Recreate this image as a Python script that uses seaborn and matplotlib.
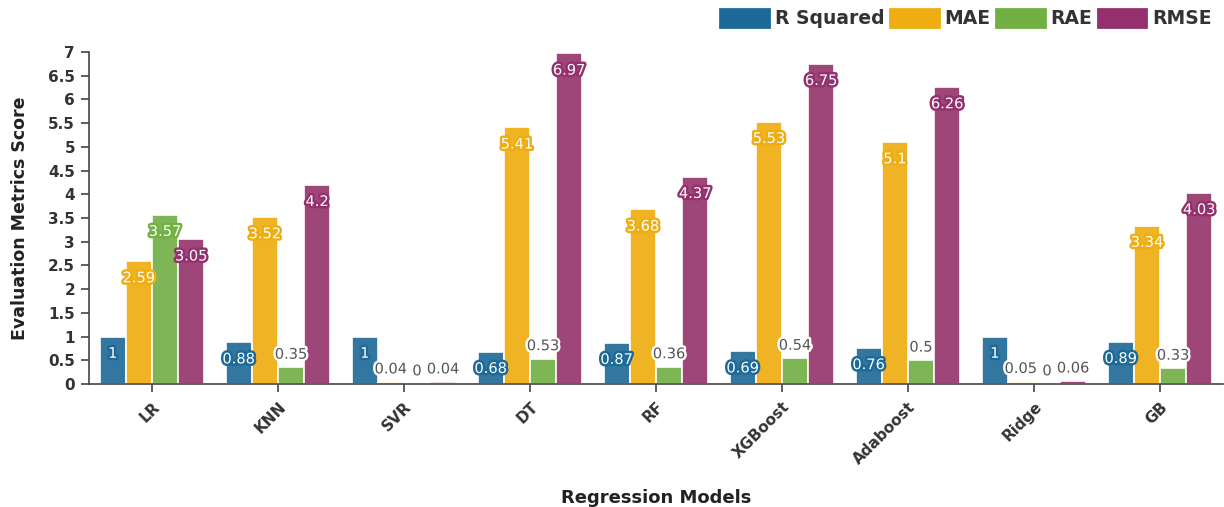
import matplotlib
matplotlib.use("Agg")
import matplotlib.pyplot as plt
import matplotlib.patheffects as pe
from matplotlib.patches import Patch
import numpy as np
import pandas as pd
import seaborn as sns

# Regression models and their evaluation metrics
models = ["LR", "KNN", "SVR", "DT", "RF", "XGBoost", "Adaboost", "Ridge", "GB"]
r_squared = [1, 0.88, 1, 0.68, 0.87, 0.69, 0.76, 1, 0.89]
mae = [2.59, 3.52, 0.04, 5.41, 3.68, 5.53, 5.1, 0.05, 3.34]
rae = [3.57, 0.35, 0, 0.53, 0.36, 0.54, 0.5, 0, 0.33]
rmse = [3.05, 4.2, 0.04, 6.97, 4.37, 6.75, 6.26, 0.06, 4.03]
metric_names = ["R Squared", "MAE", "RAE", "RMSE"]
metric_values = [r_squared, mae, rae, rmse]
y_ticks = [0, 0.5, 1, 1.5, 2, 2.5, 3, 3.5, 4, 4.5, 5, 5.5, 6, 6.5, 7]

palette = ["#1c6a97", "#eeae12", "#72b044", "#94306e"]
bar_colors = ["#33769f", "#f0b323", "#7fb655", "#9e4677"]

sns.set_theme(style="white")
plt.rcParams["font.family"] = ["DejaVu Sans"]

df = pd.DataFrame({
    "Model": models * len(metric_names),
    "Metric": np.repeat(metric_names, len(models)),
    "Score": np.concatenate(metric_values),
})

fig = plt.figure(figsize=(12.24, 5.07), dpi=100)
ax = fig.add_axes([0.0727, 0.2426, 0.9265, 0.6548])

sns.barplot(data=df, x="Model", y="Score", hue="Metric", order=models,
            hue_order=metric_names, palette=bar_colors, width=0.83,
            edgecolor="white", linewidth=1.2, saturation=1, legend=False, ax=ax)

ax.set_ylim(0, 7)
ax.set_xlim(-0.5, len(models) - 0.5)
ax.set_yticks(y_ticks)
ax.set_yticklabels([f"{t:g}" for t in y_ticks])

# Value labels: inside the top of tall bars, above short ones
px_per_unit = 332 / 7.0
for container, vals, col in zip(ax.containers, metric_values, palette):
    for bar, v in zip(container, vals):
        cx = bar.get_x() + bar.get_width() / 2
        h_px = v * px_per_unit
        if h_px > 28:
            ax.annotate(f"{v:g}", (cx, v), xytext=(0, -12), textcoords="offset points",
                        ha="center", va="center", fontsize=10.5, color="white",
                        path_effects=[pe.withStroke(linewidth=3.5, foreground=col)])
        else:
            ax.annotate(f"{v:g}", (cx, v), xytext=(0, 9.5), textcoords="offset points",
                        ha="center", va="center", fontsize=10.5, color="#555555",
                        path_effects=[pe.withStroke(linewidth=3.5, foreground="white")])

for side in ["top", "right"]:
    ax.spines[side].set_visible(False)
for side in ["left", "bottom"]:
    ax.spines[side].set_color("#444444")
    ax.spines[side].set_linewidth(1.2)

ax.tick_params(axis="both", which="both", direction="out", length=6, width=1.2,
               color="#444444", left=True, bottom=True)
ax.tick_params(axis="y", labelsize=11, labelcolor="#333333", pad=4)
ax.tick_params(axis="x", labelsize=11, labelcolor="#333333", pad=5)
for lab in ax.get_yticklabels():
    lab.set_fontweight("bold")
for lab in ax.get_xticklabels():
    lab.set_fontweight("bold")
    lab.set_rotation(45)
    lab.set_ha("right")
    lab.set_va("top")
    lab.set_rotation_mode("anchor")

ax.set_xlabel("Regression Models", fontsize=13, fontweight="bold", color="#222222", labelpad=16)
ax.set_ylabel("Evaluation Metrics Score", fontsize=12.5, fontweight="bold", color="#222222", labelpad=14)

handles = [Patch(facecolor=c, edgecolor=c, linewidth=2, joinstyle="round") for c in palette]
leg = fig.legend(handles, metric_names, loc="center right", bbox_to_anchor=(0.996, 0.964),
                 ncol=4, frameon=False, handlelength=2.6, handleheight=1.1,
                 handletextpad=0.3, columnspacing=0.3, borderaxespad=0,
                 prop={"weight": "bold", "size": 13.5})
for t in leg.get_texts():
    t.set_color("#333333")

fig.savefig("out.png", dpi=100)
